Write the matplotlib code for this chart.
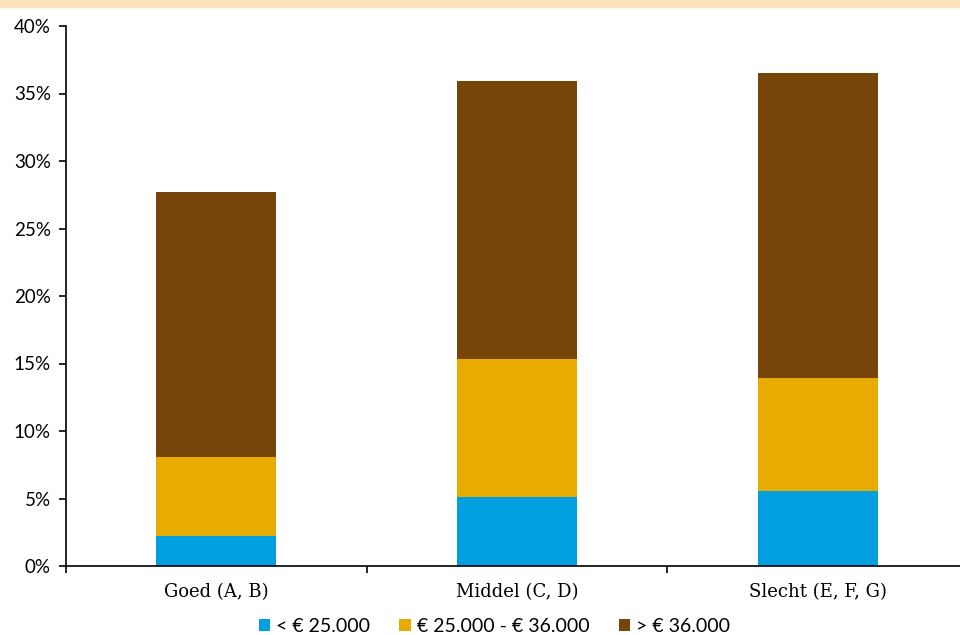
import matplotlib
matplotlib.use("Agg")
import matplotlib.pyplot as plt
import matplotlib.patches as mpatches

# data (percentages)
categories = ["Goed (A, B)", "Middel (C, D)", "Slecht (E, F, G)"]
low = [2.2, 5.1, 5.55]        # < 25.000
mid = [5.85, 10.2, 8.35]      # 25.000 - 36.000
high = [19.65, 20.6, 22.6]    # > 36.000
series_labels = ["< € 25.000", "€ 25.000 - € 36.000", "> € 36.000"]
colors = ["#009FE0", "#E8AB00", "#774509"]

plt.rcParams['font.family'] = ['Lato', 'DejaVu Sans']

fig = plt.figure(figsize=(9.6, 6.35), dpi=100)
# peach band along the top
fig.patches.append(mpatches.Rectangle((0, 1 - 7/635), 1, 7/635, transform=fig.transFigure,
                                      color="#FCE5BC", zorder=0))

ax = fig.add_axes([66/960, 69/635, 902/960, 540/635])
x = range(len(categories))
bottom2 = [a + b for a, b in zip(low, mid)]
ax.bar(x, low, width=0.4, color=colors[0], label=series_labels[0])
ax.bar(x, mid, width=0.4, bottom=low, color=colors[1], label=series_labels[1])
ax.bar(x, high, width=0.4, bottom=bottom2, color=colors[2], label=series_labels[2])

ax.set_xlim(-0.5, 2.5)
ax.set_ylim(0, 40)
ax.set_yticks(range(0, 41, 5))
ax.set_yticklabels([f"{v}%" for v in range(0, 41, 5)], fontsize=13.5)
ax.set_xticks([-0.5, 0.5, 1.5, 2.5])
ax.set_xticklabels([])
ax.set_xticks(list(x), minor=True)
ax.set_xticklabels(categories, minor=True, fontsize=13, family="DejaVu Serif")
ax.tick_params(axis='x', which='minor', length=0, pad=12)
ax.tick_params(axis='x', which='major', length=5, width=1.2, direction='out')
ax.tick_params(axis='y', length=5, width=1.2, direction='out', pad=6)

for s in ["top", "right"]:
    ax.spines[s].set_visible(False)
ax.spines["left"].set_linewidth(1.2)
ax.spines["bottom"].set_linewidth(1.2)

ax.legend(loc="lower center", bbox_to_anchor=(0.475, -0.142), ncol=3, frameon=False,
          fontsize=14, handlelength=0.6, handleheight=0.6, handletextpad=0.3,
          columnspacing=1.5, borderaxespad=0)

fig.savefig("out.png", dpi=100)
